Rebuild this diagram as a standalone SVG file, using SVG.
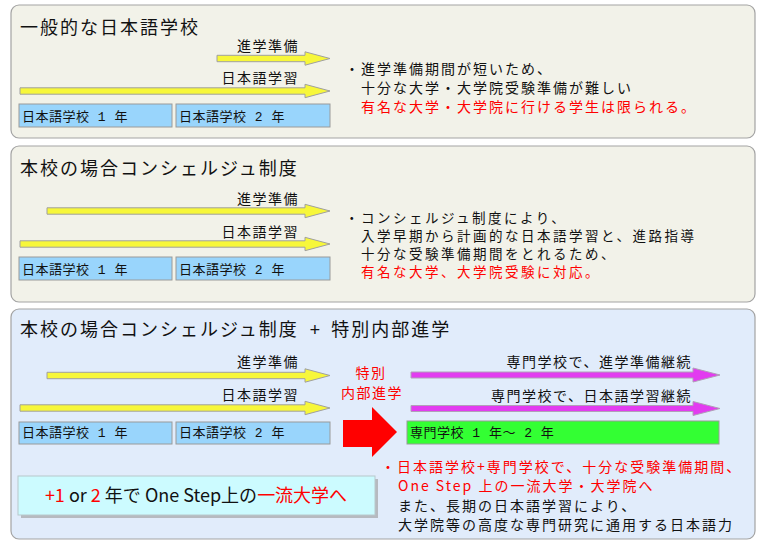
<svg xmlns="http://www.w3.org/2000/svg" width="767" height="546" viewBox="0 0 767 546">
<defs>
<style>
text{font-family:"Noto Sans CJK JP","Noto Sans",sans-serif;fill:#111;}
.panelA{fill:#f2f2e9;stroke:#a3a3a3;stroke-width:1.2;}
.panelB{fill:#e1ecfb;stroke:#a3a3a3;stroke-width:1.2;}
.title{font-size:18px;letter-spacing:2px;}
.lbl{font-size:14px;letter-spacing:1.5px;text-anchor:end;}
.body{font-size:14px;letter-spacing:2px;}
.body2{font-size:13.5px;letter-spacing:2.5px;}
.red{fill:#ff0000;}
.box{fill:#99d5fc;stroke:#9a9a9a;stroke-width:1;}
.green{fill:#33ff33;stroke:#9a9a9a;stroke-width:1;}
.boxt{font-size:13px;letter-spacing:0.5px;}
.mono{font-family:"Liberation Mono","DejaVu Sans Mono",monospace;}
.ya{fill:#f7f73a;stroke:#a0a0a0;stroke-width:1;}
.ma{fill:#e23cf0;stroke:#b0a0b8;stroke-width:1;}
.ra{fill:#ff0000;stroke:none;}
</style>
</defs>

<g id="panel1">
<rect class="panelA" x="11" y="5" width="744" height="133" rx="8"/>
<text class="title" x="20" y="33.5">一般的な日本語学校</text>
<text class="lbl" x="299" y="50.5">進学準備</text>
<text class="lbl" x="299" y="82.5">日本語学習</text>
<text class="body" x="345" y="74">・進学準備期間が短いため、</text>
<text class="body" x="361" y="93">十分な大学・大学院受験準備が難しい</text>
<text class="body red" x="361" y="112">有名な大学・大学院に行ける学生は限られる。</text>
</g>
<g id="p1-year1"><rect class="box" x="19" y="104" width="153" height="23"/><text class="boxt" x="22" y="121" xml:space="preserve">日本語学校<tspan class="mono"> 1 </tspan>年</text></g>
<g id="p1-year2"><rect class="box" x="176" y="104" width="154" height="23"/><text class="boxt" x="179" y="121" xml:space="preserve">日本語学校<tspan class="mono"> 2 </tspan>年</text></g>

<g id="panel2">
<rect class="panelA" x="11" y="146" width="744" height="156" rx="8"/>
<text class="title" x="20" y="175">本校の場合コンシェルジュ制度</text>
<text class="lbl" x="299" y="203.5">進学準備</text>
<text class="lbl" x="299" y="236.5">日本語学習</text>
<text class="body2" x="345" y="222.5">・コンシェルジュ制度により、</text>
<text class="body2" x="361" y="240.8">入学早期から計画的な日本語学習と、進路指導</text>
<text class="body2" x="361" y="259.1">十分な受験準備期間をとれるため、</text>
<text class="body2 red" x="361" y="277.4">有名な大学、大学院受験に対応。</text>
</g>
<g id="p2-year1"><rect class="box" x="19" y="257" width="153" height="23"/><text class="boxt" x="22" y="274" xml:space="preserve">日本語学校<tspan class="mono"> 1 </tspan>年</text></g>
<g id="p2-year2"><rect class="box" x="176" y="257" width="154" height="23"/><text class="boxt" x="179" y="274" xml:space="preserve">日本語学校<tspan class="mono"> 2 </tspan>年</text></g>

<g id="panel3">
<rect class="panelB" x="11" y="309" width="744" height="230" rx="8"/>
<text class="title" x="20" y="336" xml:space="preserve">本校の場合コンシェルジュ制度<tspan class="mono" style="letter-spacing:0"> + </tspan>特別内部進学</text>
<text class="lbl" x="299" y="366.5">進学準備</text>
<text class="lbl" x="299" y="400">日本語学習</text>
<text class="lbl red" x="371" y="378" style="text-anchor:middle">特別</text>
<text class="lbl red" x="372" y="398" style="text-anchor:middle">内部進学</text>
<text class="lbl" x="692" y="367">専門学校で、進学準備継続</text>
<text class="lbl" x="692" y="400.5">専門学校で、日本語学習継続</text>
<text class="body red" x="381" y="472">・日本語学校+専門学校で、十分な受験準備期間、</text>
<text class="body red" x="398" y="491" xml:space="preserve">One Step 上の一流大学・大学院へ</text>
<text class="body" x="398" y="511">また、長期の日本語学習により、</text>
<text class="body" x="398" y="530">大学院等の高度な専門研究に通用する日本語力</text>
</g>
<g id="p3-year1"><rect class="box" x="19" y="422" width="153" height="22"/><text class="boxt" x="22" y="437" xml:space="preserve">日本語学校<tspan class="mono"> 1 </tspan>年</text></g>
<g id="p3-year2"><rect class="box" x="176" y="422" width="154" height="22"/><text class="boxt" x="179" y="437" xml:space="preserve">日本語学校<tspan class="mono"> 2 </tspan>年</text></g>
<g id="p3-senmon"><rect class="green" x="407" y="421" width="312" height="23"/><text class="boxt" x="410" y="437" xml:space="preserve">専門学校<tspan class="mono"> 1 </tspan>年～<tspan class="mono"> 2 </tspan>年</text></g>
<g id="summary">
<rect x="21" y="479" width="357" height="39" fill="#9a9a9a" opacity="0.6"/>
<rect x="18" y="476" width="357" height="39" fill="#ccfbff" stroke="#b8c8cc" stroke-width="1"/>
<text x="196" y="502" style="font-size:18px;text-anchor:middle" xml:space="preserve"><tspan class="red">+1</tspan> or <tspan class="red">2</tspan> 年で One Step上の<tspan class="red">一流大学へ</tspan></text>
</g>

<g id="connectors">
<path class="ya" d="M217,55.3 H305 V51.8 L330,58.5 L305,65.2 V61.7 H217 Z"/>
<path class="ya" d="M20,87.8 H305 V84.3 L330,91 L305,97.7 V94.2 H20 Z"/>
<path class="ya" d="M47,207.8 H305 V204.3 L330,211 L305,217.7 V214.2 H47 Z"/>
<path class="ya" d="M20,240.8 H305 V237.3 L330,244 L305,250.7 V247.2 H20 Z"/>
<path class="ya" d="M47,372.3 H305 V368.8 L330,375.5 L305,382.2 V378.7 H47 Z"/>
<path class="ya" d="M20,404.8 H305 V401.3 L330,408 L305,414.7 V411.2 H20 Z"/>
<path class="ma" d="M411,372 H693 V368 L720,375 L693,382 V378 H411 Z"/>
<path class="ma" d="M411,405.5 H693 V401.5 L720,408.5 L693,415.5 V411.5 H411 Z"/>
<path class="ra" d="M343,420 H372 V407 L397,432 L372,457 V447 H343 Z"/>
</g>
</svg>
